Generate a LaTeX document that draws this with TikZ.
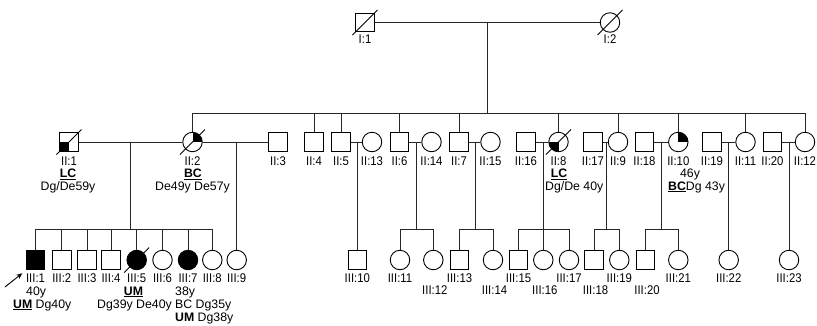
\documentclass[tikz,border=0pt]{standalone}
\usepackage{fontspec}
\setmainfont{Liberation Sans}
\newfontfamily\labfont[FakeStretch=0.9]{Liberation Sans}
\usetikzlibrary{arrows.meta}
\tikzset{
  sym/.style={draw=black, line width=0.9pt, inner sep=0pt},
  male/.style={sym, rectangle, minimum size=18.5pt},
  female/.style={sym, circle, minimum size=19.5pt},
  aff/.style={fill=black},
  qll/.style={path picture={\fill[black] (path picture bounding box.center) rectangle (path picture bounding box.south west);}},
  qur/.style={path picture={\fill[black] (path picture bounding box.center) rectangle (path picture bounding box.north east);}},
  lab/.style={inner sep=0pt, font=\labfont\fontsize{12.6}{13}\selectfont},
  ann/.style={inner sep=0pt, font=\fontsize{12.3}{13}\selectfont},
  ln/.style={draw=black!85, line width=0.9pt},
  slash/.style={draw=black, line width=0.8pt},
}
\newcommand{\deadmark}[1]{\draw[slash] ([shift={(-12.5,12.5)}]#1.center) -- ([shift={(12.5,-12.5)}]#1.center);}
\newcommand{\ul}[1]{\underline{\textbf{#1}}}
\begin{document}
\begin{tikzpicture}[x=1pt,y=-1pt]
\useasboundingbox (0,0) rectangle (817,325);
% Generation I
\node[male] (I1) at (365,22.5) {};
\node[female] (I2) at (610,22.5) {};
\deadmark{I1}\deadmark{I2}
\node[lab] (lI1) at (365,39) {I:1};
\node[lab] (lI2) at (610,39) {I:2};
% Generation II
\node[male,qll] (II1) at (69,142) {};
\node[female,qur] (II2) at (192.5,142) {};
\node[male] (II3) at (278,142) {};
\node[male] (II4) at (314,142) {};
\node[male] (II5) at (341,142) {};
\node[female] (II13) at (372,142) {};
\node[male] (II6) at (399.5,142) {};
\node[female] (II14) at (431.5,142) {};
\node[male] (II7) at (459,142) {};
\node[female] (II15) at (490.5,142) {};
\node[male] (II16) at (526,142) {};
\node[female,qll] (II8) at (558.5,142) {};
\node[male] (II17) at (593,142) {};
\node[female] (II9) at (618,142) {};
\node[male] (II18) at (644.5,142) {};
\node[female,qur] (II10) at (678.3,142) {};
\node[male] (II19) at (712,142) {};
\node[female] (II11) at (745.5,142) {};
\node[male] (II20) at (772.5,142) {};
\node[female] (II12) at (805,142) {};
\deadmark{II1}\deadmark{II2}\deadmark{II8}
\foreach \n/\t in {II1/II:1,II2/II:2,II3/II:3,II4/II:4,II5/II:5,II13/II:13,II6/II:6,II14/II:14,II7/II:7,II15/II:15,II16/II:16,II8/II:8,II17/II:17,II9/II:9,II18/II:18,II10/II:10,II19/II:19,II11/II:11,II20/II:20,II12/II:12}
  \node[lab] (l\n) at (\n |- 0,161.5) {\t};
% Generation III
\node[male,aff] (III1) at (35.5,260) {};
\node[male] (III2) at (61.8,260) {};
\node[male] (III3) at (87,260) {};
\node[male] (III4) at (111,260) {};
\node[female,aff] (III5) at (136.7,260) {};
\node[female] (III6) at (162.5,260) {};
\node[female,aff] (III7) at (188,260) {};
\node[female] (III8) at (212.3,260) {};
\node[female] (III9) at (236.7,260) {};
\node[male] (III10) at (357.3,260) {};
\node[female] (III11) at (400,260) {};
\node[female] (III12) at (433.3,260) {};
\node[male] (III13) at (459.5,260) {};
\node[female] (III14) at (493,260) {};
\node[male] (III15) at (518.5,260) {};
\node[female] (III16) at (543.3,260) {};
\node[female] (III17) at (569,260) {};
\node[male] (III18) at (594,260) {};
\node[female] (III19) at (619.3,260) {};
\node[male] (III20) at (645.5,260) {};
\node[female] (III21) at (678.3,260) {};
\node[female] (III22) at (728.7,260) {};
\node[female] (III23) at (789,260) {};
\deadmark{III5}
\foreach \n/\t in {III1/III:1,III2/III:2,III3/III:3,III4/III:4,III5/III:5,III6/III:6,III7/III:7,III8/III:8,III9/III:9,III10/III:10,III11/III:11,III13/III:13,III15/III:15,III17/III:17,III19/III:19,III21/III:21,III22/III:22,III23/III:23}
  \node[lab] (l\n) at (\n |- 0,278) {\t};
\foreach \n/\t in {III12/III:12,III14/III:14,III16/III:16,III18/III:18,III20/III:20}
  \node[lab] (l\n) at ([xshift=1.5pt]\n |- 0,290) {\t};
% Annotations
\node[ann] (a1) at (68,174) {\ul{LC}};
\node[ann] (a2) at (68,187) {Dg/De59y};
\node[ann] (a3) at (193,174) {\ul{BC}};
\node[ann] (a4) at (192.5,187) {De49y De57y};
\node[ann] (a5) at (559,174.5) {\ul{LC}};
\node[ann,anchor=west] (a6) at (545,187) {Dg/De 40y};
\node[ann] (a7) at (690,174) {46y};
\node[ann,anchor=west] (a8) at (668,187) {\ul{BC}Dg 43y};
\node[ann,anchor=west] (a9) at (26,292) {40y};
\node[ann,anchor=west] (a10) at (13,305) {\ul{UM} Dg40y};
\node[ann] (a11) at (133.5,292) {\ul{UM}};
\node[ann] (a12) at (134.5,305) {Dg39y De40y};
\node[ann,anchor=west] (a13) at (175,292) {38y};
\node[ann,anchor=west] (a14) at (175,305) {BC Dg35y};
\node[ann,anchor=west] (a15) at (175,318) {\textbf{UM} Dg38y};
% Proband arrow
\coordinate (pb) at (5,287);
\draw[line width=0.9pt,-{Stealth[length=6pt,width=5pt]}] (pb) -- ([shift={(-3.5,3.5)}]III1.south west);
% Connectors: generation I
\coordinate (mI) at (487,22.5);
\coordinate (sII) at (487,113);
\draw[ln] (I1.east) -- (I2.west);
\draw[ln] (mI) -- (sII);
\draw[ln] (II2.north |- sII) -- (II12.north |- sII);
\foreach \c in {II2,II4,II5,II6,II7,II8,II9,II10,II11,II12}
  \draw[ln] (\c.north |- sII) -- (\c.north);
% marriages
\foreach \a/\b in {II1/II2,II2/II3,II5/II13,II6/II14,II7/II15,II16/II8,II17/II9,II18/II10,II19/II11,II20/II12}
  \draw[ln] (\a.east) -- (\b.west);
% descent lines
\coordinate (mA) at (130.7,142);
\coordinate (sA) at (130.7,229.3);
\draw[ln] (mA) -- (sA);
\draw[ln] (III1.north |- sA) -- (III8.north |- sA);
\foreach \c in {III1,III2,III3,III4,III5,III6,III7,III8}
  \draw[ln] (\c.north |- sA) -- (\c.north);
\coordinate (mB) at (236.7,142);
\draw[ln] (mB) -- (III9.north);
\coordinate (mC) at (357.3,142);
\draw[ln] (mC) -- (III10.north);
\coordinate (mD) at (416,142);
\draw[ln] (mD) -- (mD |- sA);
\draw[ln] (III11.north |- sA) -- (III12.north |- sA);
\foreach \c in {III11,III12} \draw[ln] (\c.north |- sA) -- (\c.north);
\coordinate (mE) at (475,142);
\draw[ln] (mE) -- (mE |- sA);
\draw[ln] (III13.north |- sA) -- (III14.north |- sA);
\foreach \c in {III13,III14} \draw[ln] (\c.north |- sA) -- (\c.north);
\coordinate (mF) at (543.3,142);
\draw[ln] (mF) -- (III16.north);
\draw[ln] (III15.north |- sA) -- (III17.north |- sA);
\foreach \c in {III15,III17} \draw[ln] (\c.north |- sA) -- (\c.north);
\coordinate (mG) at (606,142);
\draw[ln] (mG) -- (mG |- sA);
\draw[ln] (III18.north |- sA) -- (III19.north |- sA);
\foreach \c in {III18,III19} \draw[ln] (\c.north |- sA) -- (\c.north);
\coordinate (mH) at (661.7,142);
\draw[ln] (mH) -- (mH |- sA);
\draw[ln] (III20.north |- sA) -- (III21.north |- sA);
\foreach \c in {III20,III21} \draw[ln] (\c.north |- sA) -- (\c.north);
\coordinate (mJ) at (728.7,142);
\draw[ln] (mJ) -- (III22.north);
\coordinate (mK) at (789,142);
\draw[ln] (mK) -- (III23.north);
\end{tikzpicture}
\end{document}
